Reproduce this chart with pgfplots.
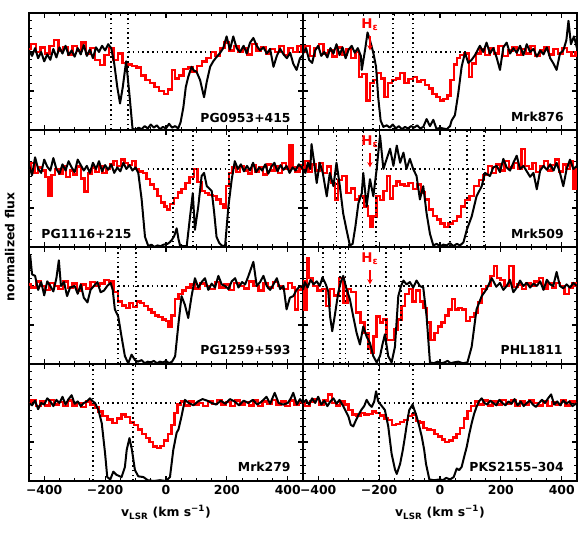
\documentclass[border=0pt]{standalone}
\usepackage{fontspec}
\setmainfont{DejaVu Sans}
\usepackage{pgfplots}
\pgfplotsset{compat=1.18}
\usepgfplotslibrary{groupplots}
\usetikzlibrary{arrows.meta}
\begin{document}
\bfseries\fontsize{9}{11}\selectfont
\begin{tikzpicture}
\tikzset{
  bl/.style={black, line width=1.5pt, line join=round},
  rd/.style={red, line width=1.8pt, const plot mark mid},
  vl/.style={black, line width=1.2pt, dash pattern=on 1.2pt off 2.4pt},
  he/.style={red, font=\fontsize{10}{11}\selectfont\bfseries},
  hea/.style={red, line width=1.1pt, -{Stealth[length=4pt,width=4pt]}},
  pl/.style={font=\fontsize{9.3}{10}\selectfont\bfseries}
}
\begin{groupplot}[
  group style={group size=2 by 4, horizontal sep=0pt, vertical sep=0pt, group name=group},
  width=205.5pt, height=87.75pt, scale only axis,
  xmin=-450, xmax=450, ymin=0, ymax=1.5,
  xtick={-400,-200,0,200,400}, minor x tick num=3,
  ytick={0,0.5,1,1.5}, minor y tick num=4,
  xticklabels={}, yticklabels={},
  tick align=inside, xtick pos=both, ytick pos=both,
  major tick length=4pt, minor tick length=2pt,
  every tick/.style={black, line width=0.8pt},
  axis line style={line width=1.3pt},
  xticklabel style={font=\fontsize{9.3}{10}\selectfont\bfseries},
  xlabel style={font=\fontsize{9.3}{10}\selectfont\bfseries, yshift=-2pt},
]
% ---------------- PG0953+415
\nextgroupplot
\addplot[rd] coordinates {(-450,1.04)(-435,1.10)(-420,1.00)(-405,1.06)(-390,0.98)(-375,1.08)(-360,1.15)(-345,1.02)(-330,1.06)(-315,0.97)(-300,1.08)(-285,1.02)(-270,1.12)(-255,0.98)(-240,1.05)(-225,0.90)(-210,0.83)(-195,0.96)(-180,1.05)(-165,0.90)(-150,0.98)(-135,0.86)(-120,0.84)(-105,0.82)(-90,0.80)(-75,0.70)(-60,0.64)(-45,0.60)(-30,0.55)(-15,0.50)(0,0.46)(15,0.52)(24,0.77)(35,0.66)(50,0.70)(65,0.78)(80,0.80)(95,0.75)(110,0.82)(125,0.88)(140,0.92)(155,1.00)(170,0.95)(185,1.05)(200,1.12)(215,1.02)(230,1.08)(245,1.00)(260,1.05)(275,0.97)(290,1.10)(305,1.02)(320,1.06)(335,0.98)(350,1.04)(365,1.00)(380,1.08)(395,0.96)(410,1.05)(425,1.00)(440,1.08)(450,1.00)};
\addplot[bl] coordinates {(-450,1.02)(-440,0.95)(-430,1.05)(-420,0.92)(-410,1.00)(-400,0.88)(-390,0.97)(-380,0.90)(-370,1.04)(-360,0.93)(-350,1.06)(-340,0.98)(-330,1.08)(-320,0.96)(-310,1.02)(-300,0.94)(-290,1.05)(-280,0.97)(-270,1.09)(-260,0.95)(-250,1.03)(-240,0.92)(-230,1.06)(-220,1.00)(-210,1.08)(-200,1.02)(-190,1.10)(-180,1.05)(-170,0.85)(-160,0.55)(-151,0.34)(-142,0.55)(-131,0.88)(-120,0.45)(-110,0.02)(-100,0.00)(-90,0.03)(-80,0.01)(-70,0.05)(-60,0.02)(-50,0.07)(-40,0.03)(-30,0.06)(-20,0.01)(-10,0.04)(0,0.02)(10,0.08)(20,0.03)(30,0.05)(40,0.02)(48,0.10)(57,0.29)(65,0.55)(73,0.68)(84,0.81)(92,0.76)(100,0.75)(112,0.64)(125,0.42)(134,0.62)(145,0.81)(155,0.88)(165,0.93)(178,0.99)(188,1.05)(199,1.20)(210,1.03)(221,1.20)(232,1.05)(243,1.00)(255,1.08)(265,0.98)(276,1.12)(287,1.18)(298,1.08)(309,1.02)(320,1.06)(331,0.98)(342,1.04)(353,0.81)(364,0.95)(375,1.04)(386,0.97)(397,0.92)(408,0.99)(418,0.85)(429,0.77)(440,0.92)(450,0.96)};
\draw[vl] (axis cs:-181,0) -- (axis cs:-181,1.5);
\draw[vl] (axis cs:-125,0) -- (axis cs:-125,1.5);
\draw[vl] (axis cs:-125,1) -- (axis cs:145,1);
\node[pl, anchor=base east] at (rel axis cs:0.97,0.065) {PG0953+415};
% ---------------- Mrk876
\nextgroupplot
\addplot[rd] coordinates {(-450,1.00)(-435,1.08)(-420,0.95)(-405,1.05)(-390,1.10)(-375,0.98)(-360,1.02)(-345,0.94)(-330,1.06)(-315,0.96)(-300,1.04)(-285,0.92)(-270,1.00)(-263,0.68)(-248,0.72)(-235,0.38)(-225,0.60)(-212,0.64)(-200,0.73)(-188,0.66)(-176,0.42)(-164,0.60)(-150,0.64)(-138,0.66)(-124,0.73)(-110,0.60)(-96,0.65)(-82,0.68)(-68,0.62)(-55,0.64)(-42,0.58)(-30,0.53)(-18,0.46)(-6,0.42)(5,0.38)(18,0.40)(30,0.44)(40,0.64)(50,0.84)(60,0.92)(72,0.96)(90,0.98)(100,0.68)(110,0.85)(125,0.98)(140,1.03)(155,0.96)(170,1.05)(185,0.98)(200,1.08)(215,0.95)(230,1.02)(245,1.06)(260,0.96)(275,1.04)(290,0.98)(305,1.08)(320,0.95)(335,1.02)(350,1.06)(365,0.97)(380,1.04)(395,0.98)(410,1.05)(425,1.00)(440,0.95)(450,1.00)};
\addplot[bl] coordinates {(-450,0.98)(-440,1.05)(-430,0.90)(-420,0.86)(-410,1.02)(-400,1.08)(-390,0.95)(-380,1.00)(-370,0.93)(-360,1.05)(-350,0.98)(-340,1.10)(-330,0.96)(-320,1.06)(-310,0.92)(-300,1.03)(-290,1.08)(-280,0.99)(-270,1.05)(-260,0.95)(-257,0.77)(-246,1.03)(-238,1.25)(-230,1.15)(-219,0.99)(-210,0.81)(-203,0.42)(-195,0.12)(-186,0.04)(-175,0.06)(-165,0.03)(-155,0.07)(-145,0.02)(-135,0.05)(-125,0.01)(-115,0.04)(-105,0.02)(-95,0.05)(-85,0.03)(-75,0.06)(-65,0.02)(-55,0.04)(-44,0.14)(-33,0.05)(-22,0.13)(-11,0.01)(0,0.03)(10,0.02)(22,0.01)(33,0.05)(38,0.12)(49,0.19)(60,0.47)(71,0.81)(82,0.99)(93,0.86)(104,0.90)(115,0.96)(131,1.08)(142,1.00)(153,1.12)(164,0.98)(175,1.05)(186,0.93)(197,0.77)(208,1.06)(219,1.12)(230,0.98)(241,1.05)(252,0.99)(263,1.08)(274,0.96)(285,1.10)(296,1.00)(307,1.04)(318,0.94)(329,1.02)(340,0.97)(351,1.06)(362,0.92)(373,0.85)(383,0.77)(394,0.98)(405,1.02)(415,1.15)(422,1.40)(430,1.10)(440,1.20)(450,1.05)};
\draw[vl] (axis cs:-220,0) -- (axis cs:-220,1.0);
\draw[vl] (axis cs:-154,0) -- (axis cs:-154,1.5);
\draw[vl] (axis cs:-89,0) -- (axis cs:-89,1.5);
\draw[vl] (axis cs:-220,1) -- (axis cs:89,1);
\node[he] at (axis cs:-230,1.35) {H\textsubscript{ε}};
\draw[hea] (axis cs:-230,1.2) -- (axis cs:-230,1.02);
\node[pl, anchor=base east] at (rel axis cs:0.967,0.07) {Mrk876};
% ---------------- PG1116+215
\nextgroupplot
\addplot[rd] coordinates {(-450,1.00)(-438,1.08)(-426,0.95)(-414,1.02)(-402,0.98)(-390,0.90)(-381,0.65)(-370,0.92)(-358,1.00)(-346,0.94)(-334,1.04)(-322,0.90)(-310,0.98)(-298,0.93)(-286,1.03)(-274,0.88)(-261,0.71)(-250,0.94)(-238,1.02)(-226,0.96)(-214,1.04)(-202,0.95)(-190,1.00)(-178,1.06)(-166,1.10)(-154,1.04)(-142,1.12)(-130,1.08)(-118,1.05)(-106,1.10)(-94,1.00)(-82,0.97)(-70,0.95)(-58,0.87)(-46,0.80)(-34,0.74)(-22,0.65)(-10,0.57)(0,0.52)(8,0.48)(20,0.55)(32,0.63)(45,0.70)(57,0.74)(70,0.82)(84,0.90)(98,1.00)(110,0.83)(122,0.72)(134,0.69)(146,0.67)(160,0.65)(172,0.61)(185,0.55)(194,0.50)(202,0.78)(212,0.95)(225,1.02)(238,0.96)(250,1.04)(262,0.98)(275,0.94)(288,1.05)(300,0.97)(312,1.02)(325,0.93)(338,1.06)(350,0.98)(362,1.03)(375,0.95)(388,1.08)(400,1.00)(410,1.30)(420,1.02)(432,0.97)(445,1.05)(450,1.00)};
\addplot[bl] coordinates {(-450,1.05)(-440,0.92)(-430,1.15)(-420,1.00)(-410,0.95)(-400,1.12)(-390,1.03)(-380,0.98)(-370,1.14)(-360,1.00)(-350,0.94)(-340,1.06)(-330,0.98)(-320,1.10)(-310,1.02)(-300,0.96)(-290,1.12)(-280,1.05)(-270,0.98)(-260,1.04)(-250,0.95)(-240,1.08)(-230,1.00)(-220,1.10)(-210,0.97)(-200,1.05)(-190,0.99)(-180,1.06)(-170,0.95)(-160,1.02)(-150,0.97)(-140,1.08)(-130,1.00)(-120,1.05)(-110,0.98)(-100,1.02)(-91,0.95)(-80,0.61)(-69,0.13)(-58,0.01)(-48,0.03)(-38,0.00)(-28,0.02)(-18,0.01)(-8,0.03)(5,0.04)(12,0.06)(19,0.09)(27,0.14)(35,0.24)(41,0.10)(46,0.02)(57,0.01)(68,0.01)(79,0.39)(88,0.69)(95,0.22)(106,0.52)(117,0.91)(125,0.95)(134,0.78)(150,0.72)(158,0.45)(166,0.13)(175,0.05)(183,0.02)(194,0.01)(205,0.52)(216,0.87)(226,1.10)(236,1.00)(246,1.06)(256,0.97)(266,1.04)(276,0.98)(286,1.08)(296,0.96)(306,1.02)(316,0.98)(326,1.06)(336,0.94)(346,1.03)(356,1.08)(366,0.97)(376,1.05)(386,0.99)(396,1.04)(406,0.95)(416,1.02)(426,0.98)(436,1.06)(450,1.00)};
\draw[vl] (axis cs:23,0) -- (axis cs:23,1.5);
\draw[vl] (axis cs:89,0) -- (axis cs:89,1.5);
\draw[vl] (axis cs:207,0) -- (axis cs:207,1.5);
\draw[vl] (axis cs:-60,1) -- (axis cs:207,1);
\node[pl, anchor=base west] at (rel axis cs:0.03,0.075) {PG1116+215};
% ---------------- Mrk509
\nextgroupplot
\addplot[rd] coordinates {(-450,1.02)(-438,1.10)(-426,0.96)(-414,1.06)(-402,0.98)(-390,1.08)(-378,0.95)(-366,1.03)(-350,0.82)(-340,0.61)(-329,0.86)(-315,0.91)(-300,0.69)(-285,0.75)(-274,0.61)(-258,0.65)(-241,0.52)(-232,0.40)(-225,0.26)(-214,0.39)(-203,0.65)(-190,0.60)(-180,0.72)(-170,0.91)(-160,0.62)(-148,0.78)(-138,0.84)(-124,0.80)(-110,0.78)(-96,0.82)(-82,0.74)(-68,0.80)(-55,0.70)(-44,0.61)(-30,0.48)(-16,0.40)(-5,0.35)(8,0.30)(22,0.26)(35,0.30)(50,0.33)(62,0.39)(75,0.52)(90,0.60)(104,0.65)(120,0.78)(135,0.86)(150,0.92)(164,1.04)(178,0.95)(190,1.06)(205,0.98)(220,1.10)(235,1.02)(250,1.08)(262,1.00)(274,1.26)(285,1.04)(298,1.00)(310,1.08)(322,0.96)(335,1.04)(348,1.10)(360,0.98)(372,1.05)(385,1.12)(398,0.97)(410,1.06)(422,1.00)(432,1.10)(440,0.74)(450,1.00)};
\addplot[bl] coordinates {(-450,1.00)(-442,0.95)(-434,1.08)(-426,1.00)(-422,1.32)(-414,1.10)(-405,0.82)(-395,1.08)(-385,0.95)(-372,0.65)(-362,0.95)(-350,0.78)(-340,1.08)(-329,0.78)(-318,0.43)(-307,0.22)(-296,0.02)(-287,0.04)(-278,0.26)(-268,0.56)(-257,0.69)(-252,0.95)(-241,0.52)(-230,0.87)(-219,0.65)(-208,1.00)(-197,1.43)(-186,1.00)(-175,1.13)(-164,1.26)(-153,1.04)(-142,1.30)(-131,1.08)(-120,1.21)(-110,1.00)(-99,1.13)(-88,1.00)(-77,0.91)(-66,0.61)(-55,0.78)(-44,0.43)(-33,0.17)(-22,0.02)(-11,0.04)(0,0.01)(11,0.03)(22,0.02)(33,0.05)(44,0.01)(55,0.04)(66,0.02)(77,0.06)(88,0.22)(104,0.39)(120,0.65)(137,0.78)(148,0.95)(164,0.91)(175,1.02)(186,1.04)(197,0.96)(208,1.13)(219,1.02)(230,0.98)(241,1.08)(252,1.17)(263,1.00)(274,1.04)(285,0.97)(296,0.90)(307,0.95)(318,0.74)(329,0.98)(340,1.04)(351,0.99)(362,1.06)(373,0.98)(383,1.08)(394,0.95)(405,0.78)(416,1.00)(427,1.12)(438,1.00)(450,1.04)};
\draw[vl] (axis cs:-340,0) -- (axis cs:-340,1.5);
\draw[vl] (axis cs:-254,0) -- (axis cs:-254,1.5);
\draw[vl] (axis cs:-210,0) -- (axis cs:-210,1.5);
\draw[vl] (axis cs:33,0) -- (axis cs:33,1.5);
\draw[vl] (axis cs:88,0) -- (axis cs:88,1.5);
\draw[vl] (axis cs:145,0) -- (axis cs:145,1.5);
\draw[vl] (axis cs:-210,1) -- (axis cs:145,1);
\node[he] at (axis cs:-230,1.35) {H\textsubscript{ε}};
\draw[hea] (axis cs:-230,1.2) -- (axis cs:-230,1.02);
\node[pl, anchor=base east] at (rel axis cs:0.967,0.075) {Mrk509};
% ---------------- PG1259+593
\nextgroupplot
\addplot[rd] coordinates {(-450,1.02)(-435,0.98)(-420,1.06)(-405,1.00)(-390,0.95)(-375,1.04)(-360,1.00)(-345,0.96)(-330,1.06)(-315,0.98)(-300,1.03)(-285,0.94)(-270,1.02)(-255,0.97)(-240,1.05)(-225,1.00)(-210,1.03)(-195,1.08)(-180,1.06)(-165,0.92)(-150,0.80)(-138,0.75)(-126,0.72)(-114,0.78)(-102,0.73)(-90,0.80)(-78,0.78)(-66,0.74)(-54,0.70)(-42,0.66)(-30,0.62)(-18,0.60)(-6,0.57)(5,0.55)(12,0.48)(24,0.62)(35,0.83)(48,0.90)(60,0.94)(72,0.98)(88,1.02)(104,0.97)(120,1.03)(136,1.00)(152,0.96)(168,1.05)(184,0.98)(200,1.02)(216,0.95)(232,1.04)(248,1.00)(264,0.97)(280,1.06)(296,1.00)(312,0.94)(328,1.03)(344,0.98)(360,1.05)(376,1.00)(392,0.96)(408,1.04)(420,0.98)(429,0.70)(440,0.95)(450,1.00)};
\addplot[bl] coordinates {(-450,1.20)(-446,1.39)(-440,1.15)(-430,1.13)(-420,0.95)(-410,1.05)(-400,0.88)(-390,1.06)(-380,1.00)(-370,0.93)(-360,1.10)(-352,1.33)(-345,1.00)(-335,1.05)(-325,0.87)(-315,0.98)(-300,1.00)(-290,0.90)(-280,1.02)(-270,0.85)(-258,0.79)(-248,0.95)(-237,1.00)(-225,1.05)(-215,0.92)(-204,0.94)(-193,1.00)(-182,1.04)(-175,0.95)(-168,0.70)(-157,0.61)(-146,0.35)(-135,0.10)(-124,0.01)(-113,0.12)(-102,0.05)(-92,0.03)(-80,0.05)(-70,0.01)(-60,0.03)(-50,0.02)(-40,0.04)(-30,0.01)(-20,0.03)(-10,0.02)(0,0.04)(10,0.01)(20,0.03)(30,0.10)(41,0.52)(51,0.87)(62,0.76)(73,0.59)(84,0.87)(95,1.10)(106,0.98)(117,1.05)(128,1.10)(139,0.95)(150,1.03)(161,0.98)(172,1.13)(183,1.02)(194,1.00)(205,0.96)(216,1.06)(227,1.10)(238,0.98)(250,1.05)(260,1.02)(270,1.12)(287,1.31)(298,1.00)(309,1.05)(320,1.13)(331,1.00)(342,0.95)(353,1.02)(364,1.10)(375,0.96)(386,1.00)(396,0.70)(407,0.85)(418,0.87)(429,0.95)(440,1.00)(450,0.98)};
\draw[vl] (axis cs:-157,0) -- (axis cs:-157,1.5);
\draw[vl] (axis cs:-99,0) -- (axis cs:-99,1.5);
\draw[vl] (axis cs:-157,1) -- (axis cs:46,1);
\node[pl, anchor=base east] at (rel axis cs:0.97,0.077) {PG1259+593};
% ---------------- PHL1811
\nextgroupplot
\addplot[rd] coordinates {(-450,1.06)(-440,0.70)(-435,1.35)(-425,1.10)(-410,1.00)(-395,0.94)(-380,0.96)(-367,0.74)(-355,0.96)(-340,0.88)(-325,1.10)(-310,0.79)(-298,0.96)(-285,0.92)(-268,0.66)(-255,0.53)(-241,0.40)(-230,0.20)(-222,0.14)(-214,0.35)(-203,0.61)(-192,0.53)(-181,0.57)(-170,0.31)(-158,0.31)(-144,0.44)(-132,0.57)(-120,0.74)(-108,0.90)(-96,0.96)(-84,0.80)(-72,0.94)(-60,0.80)(-49,0.72)(-38,0.53)(-24,0.31)(-12,0.40)(0,0.48)(11,0.53)(22,0.62)(34,0.70)(44,0.83)(55,0.70)(66,0.72)(80,0.70)(92,0.55)(104,0.60)(118,0.65)(131,0.79)(145,0.96)(160,1.00)(172,1.13)(181,1.26)(192,1.10)(205,1.08)(220,1.00)(235,1.26)(248,0.99)(262,1.02)(276,0.96)(290,1.04)(304,1.00)(318,1.06)(332,1.10)(346,0.97)(360,1.03)(374,0.98)(388,1.04)(402,1.00)(416,0.90)(430,0.98)(440,1.03)(450,1.00)};
\addplot[bl] coordinates {(-450,0.95)(-444,1.05)(-435,0.98)(-425,1.08)(-415,1.02)(-405,1.06)(-395,1.00)(-386,1.11)(-375,1.02)(-367,0.93)(-361,0.61)(-354,0.42)(-346,0.61)(-334,0.92)(-326,1.05)(-318,1.13)(-307,0.96)(-296,0.83)(-285,0.61)(-274,0.40)(-263,0.25)(-252,0.48)(-241,0.35)(-230,0.27)(-219,0.10)(-208,0.02)(-197,0.10)(-189,0.25)(-181,0.38)(-170,0.10)(-159,0.02)(-148,0.22)(-137,0.87)(-128,1.00)(-120,1.07)(-110,1.02)(-99,1.05)(-88,0.98)(-77,1.07)(-66,1.00)(-55,0.98)(-44,0.61)(-33,0.02)(-20,0.01)(-8,0.03)(5,0.01)(15,0.02)(25,0.04)(35,0.01)(45,0.02)(60,0.03)(75,0.01)(90,0.02)(104,0.22)(120,0.70)(137,0.87)(153,0.96)(170,1.10)(185,0.99)(197,1.04)(208,0.95)(219,1.00)(230,1.08)(241,0.92)(252,0.98)(263,1.07)(274,1.00)(285,1.04)(296,0.98)(307,1.03)(318,1.00)(329,1.06)(340,0.95)(351,1.08)(362,1.02)(372,1.00)(383,1.18)(394,1.00)(405,0.97)(416,1.02)(427,0.98)(438,1.04)(450,1.00)};
\draw[vl] (axis cs:-385,0) -- (axis cs:-385,1.5);
\draw[vl] (axis cs:-329,0) -- (axis cs:-329,1.5);
\draw[vl] (axis cs:-310,0) -- (axis cs:-310,1.5);
\draw[vl] (axis cs:-237,0) -- (axis cs:-237,1.0);
\draw[vl] (axis cs:-178,0) -- (axis cs:-178,1.5);
\draw[vl] (axis cs:-128,0) -- (axis cs:-128,1.5);
\draw[vl] (axis cs:-310,1) -- (axis cs:138,1);
\node[he] at (axis cs:-230,1.35) {H\textsubscript{ε}};
\draw[hea] (axis cs:-230,1.2) -- (axis cs:-230,1.02);
\node[pl, anchor=base east] at (rel axis cs:0.963,0.077) {PHL1811};
% ---------------- Mrk279
\nextgroupplot[xticklabels={−400,−200,0,200,400}, xlabel={v\textsubscript{LSR} (km s\textsuperscript{−1})}]
\addplot[rd] coordinates {(-450,1.00)(-435,1.03)(-420,0.96)(-405,1.02)(-390,0.97)(-375,1.04)(-360,0.98)(-345,1.01)(-330,0.96)(-315,1.03)(-300,0.97)(-285,1.00)(-270,0.95)(-255,1.02)(-240,0.98)(-228,0.94)(-216,0.89)(-200,0.83)(-184,0.79)(-168,0.74)(-152,0.80)(-140,0.85)(-125,0.82)(-110,0.75)(-100,0.72)(-85,0.66)(-72,0.60)(-60,0.55)(-48,0.50)(-36,0.44)(-24,0.42)(-12,0.45)(0,0.52)(12,0.60)(24,0.72)(33,0.87)(42,0.98)(55,1.02)(70,0.97)(85,1.02)(100,0.98)(115,1.00)(130,0.96)(145,1.02)(160,0.99)(175,1.04)(190,0.98)(205,1.01)(220,0.96)(235,1.03)(250,0.98)(265,1.01)(280,0.97)(295,1.03)(310,0.96)(325,1.02)(340,0.99)(355,1.04)(370,0.98)(385,1.02)(400,0.96)(415,1.03)(430,0.98)(445,1.01)(450,1.00)};
\addplot[bl] coordinates {(-450,1.00)(-440,0.97)(-430,1.03)(-420,0.92)(-410,1.00)(-400,0.98)(-390,1.06)(-380,1.02)(-370,0.96)(-360,1.04)(-350,1.00)(-340,1.08)(-330,0.98)(-320,1.05)(-310,1.10)(-300,0.99)(-290,1.02)(-280,0.96)(-270,1.00)(-260,1.02)(-250,1.06)(-240,1.02)(-233,1.00)(-222,0.91)(-211,0.74)(-200,0.35)(-193,0.05)(-183,0.02)(-173,0.12)(-163,0.08)(-146,0.05)(-135,0.18)(-129,0.40)(-120,0.55)(-112,0.40)(-102,0.14)(-91,0.06)(-74,0.05)(-60,0.01)(-40,0.00)(-20,0.01)(0,0.00)(13,0.05)(24,0.40)(35,0.62)(41,0.66)(51,0.83)(62,1.04)(75,1.00)(90,0.97)(105,1.02)(120,1.05)(135,1.03)(150,1.00)(165,0.98)(180,1.03)(195,0.99)(210,1.05)(225,1.02)(240,0.97)(255,1.03)(270,1.00)(285,1.04)(300,0.98)(315,1.02)(330,1.08)(342,0.99)(357,1.13)(370,1.00)(385,0.98)(400,1.00)(410,1.06)(418,1.13)(430,0.98)(440,1.05)(450,1.00)};
\draw[vl] (axis cs:-240,0) -- (axis cs:-240,1.5);
\draw[vl] (axis cs:-109,0) -- (axis cs:-109,1.5);
\draw[vl] (axis cs:-240,1) -- (axis cs:55,1);
\node[pl, anchor=base east] at (rel axis cs:0.97,0.08) {Mrk279};
% ---------------- PKS2155-304
\nextgroupplot[xticklabels={−400,−200,0,200,400}, xlabel={v\textsubscript{LSR} (km s\textsuperscript{−1})}]
\addplot[rd] coordinates {(-450,1.00)(-435,0.96)(-420,1.02)(-405,1.05)(-390,0.98)(-375,1.03)(-361,1.11)(-348,1.00)(-335,0.97)(-320,1.02)(-307,0.98)(-295,0.91)(-280,0.85)(-268,0.83)(-255,0.87)(-241,0.85)(-228,0.86)(-216,0.89)(-203,0.87)(-190,0.84)(-176,0.80)(-164,0.78)(-150,0.72)(-138,0.73)(-125,0.76)(-112,0.78)(-99,0.83)(-86,0.85)(-73,0.77)(-60,0.75)(-48,0.68)(-36,0.66)(-24,0.65)(-12,0.60)(0,0.57)(12,0.53)(22,0.50)(36,0.52)(48,0.56)(60,0.60)(72,0.68)(84,0.80)(96,0.90)(108,0.96)(120,1.02)(135,0.98)(150,1.03)(165,0.97)(180,1.02)(195,0.98)(210,1.04)(225,0.99)(240,1.03)(255,0.96)(270,1.02)(285,0.98)(300,1.04)(315,1.00)(330,0.97)(345,1.02)(360,0.96)(375,1.01)(390,0.98)(405,1.03)(420,0.97)(435,1.02)(450,1.00)};
\addplot[bl] coordinates {(-450,1.00)(-440,1.04)(-430,0.98)(-420,1.06)(-410,1.00)(-400,1.08)(-390,0.98)(-380,1.03)(-370,0.96)(-360,1.02)(-350,1.06)(-340,0.99)(-330,1.04)(-318,0.96)(-310,0.90)(-301,0.83)(-293,0.72)(-285,0.70)(-276,0.78)(-266,0.86)(-257,0.92)(-249,0.96)(-241,1.04)(-232,0.98)(-224,0.95)(-216,1.02)(-210,1.15)(-203,1.02)(-197,0.99)(-189,0.95)(-181,0.91)(-170,0.70)(-159,0.35)(-148,0.15)(-142,0.09)(-131,0.22)(-122,0.40)(-115,0.57)(-107,0.78)(-101,0.91)(-90,0.98)(-77,0.83)(-68,0.70)(-60,0.57)(-52,0.40)(-46,0.22)(-35,0.02)(-20,0.01)(0,0.02)(10,0.01)(20,0.04)(33,0.02)(45,0.05)(55,0.16)(63,0.14)(71,0.18)(80,0.32)(88,0.44)(96,0.60)(104,0.74)(112,0.86)(120,0.95)(128,1.02)(137,1.06)(146,1.00)(155,0.98)(165,1.03)(175,1.00)(185,0.97)(195,1.04)(205,1.00)(215,0.97)(225,1.02)(235,0.99)(245,1.05)(255,0.97)(265,1.02)(275,0.96)(285,1.00)(295,1.03)(305,0.98)(315,0.95)(325,1.00)(335,1.04)(345,1.00)(355,1.06)(365,1.11)(375,0.98)(385,1.02)(395,0.97)(405,1.03)(415,0.99)(425,1.02)(435,0.96)(450,1.00)};
\draw[vl] (axis cs:-200,0) -- (axis cs:-200,1.5);
\draw[vl] (axis cs:-89,0) -- (axis cs:-89,1.5);
\draw[vl] (axis cs:-200,1) -- (axis cs:115,1);
\node[pl, anchor=base east] at (rel axis cs:0.967,0.08) {PKS2155–304};
\end{groupplot}
\node[rotate=90, font=\fontsize{9.3}{10}\selectfont\bfseries] at ([xshift=-14.5pt]group c1r2.south west) {normalized flux};
\pgfresetboundingbox
\path[use as bounding box] ([xshift=-21.75pt,yshift=9.75pt]group c1r1.north west) rectangle ([xshift=6.75pt,yshift=-39pt]group c2r4.south east);
\end{tikzpicture}
\end{document}
